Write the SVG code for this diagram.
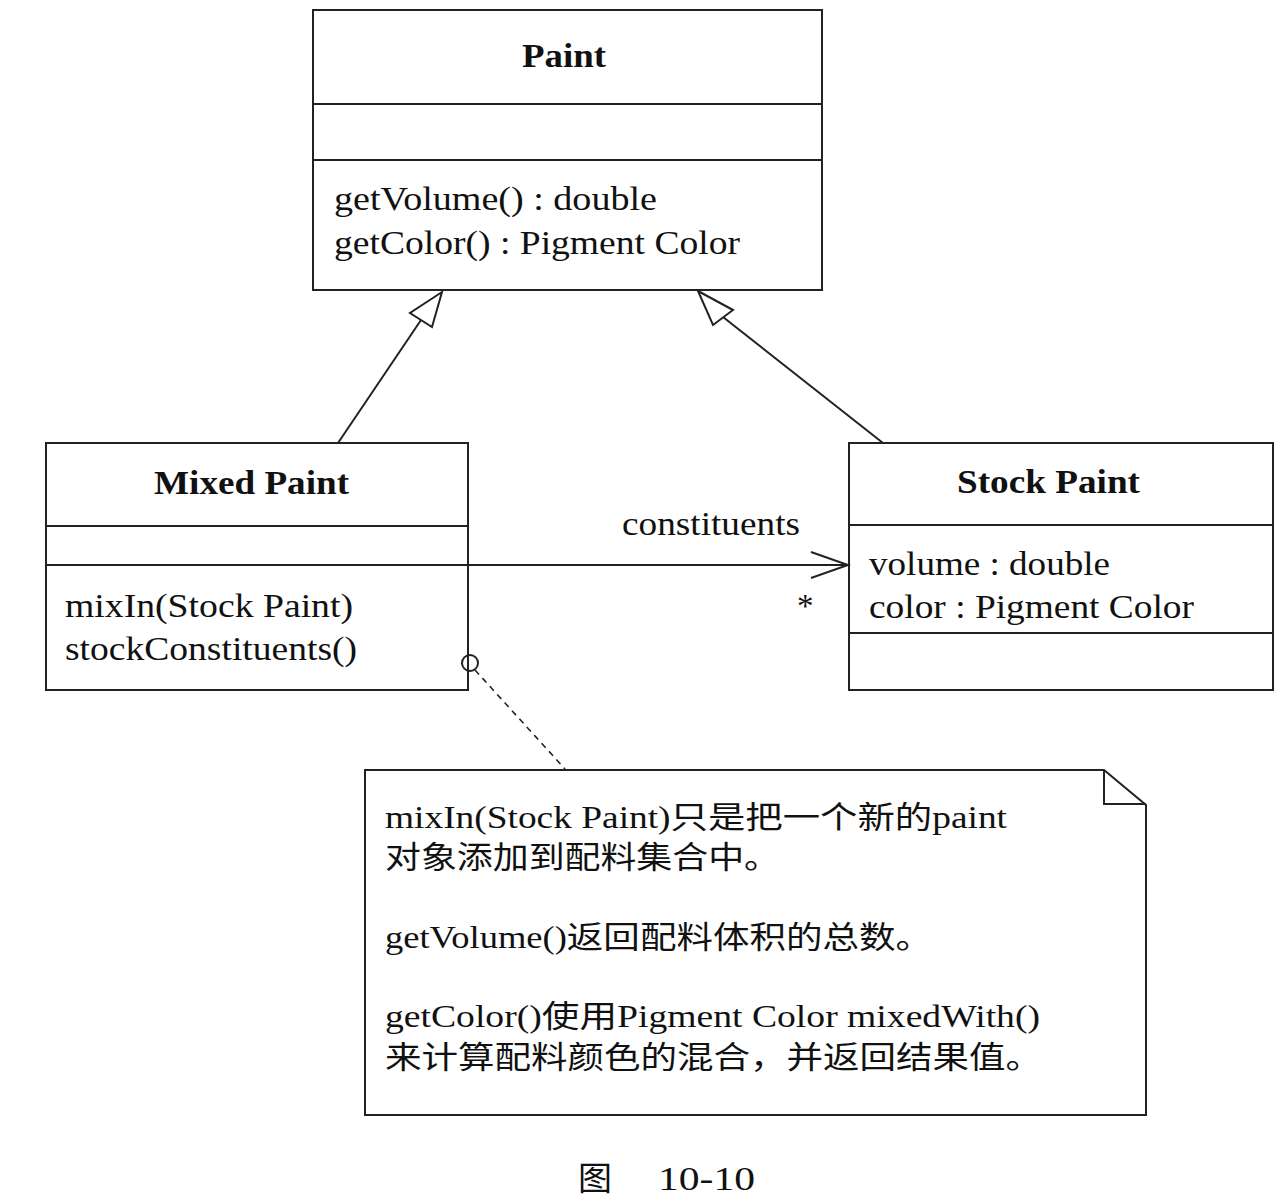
<svg xmlns="http://www.w3.org/2000/svg" width="1284" height="1200" viewBox="0 0 1284 1200">
<style>
.box{fill:#fff;stroke:#222;stroke-width:2}
.ln{stroke:#222;stroke-width:2;fill:none}
.t{font-family:"Liberation Serif","Noto Sans CJK SC",serif;font-size:33px;fill:#111}
.b{font-weight:bold}
.c{font-family:"Liberation Serif","Noto Sans CJK SC",serif;font-size:31px;fill:#111}
</style>
<rect width="1284" height="1200" fill="#fff"/>
<g id="paint">
<rect class="box" x="313" y="10" width="509" height="280"/>
<line class="ln" x1="313" y1="104" x2="822" y2="104"/>
<line class="ln" x1="313" y1="160" x2="822" y2="160"/>
<text class="t b" x="522" y="67" textLength="84" lengthAdjust="spacingAndGlyphs">Paint</text>
<text class="t" x="334" y="210" textLength="323" lengthAdjust="spacingAndGlyphs">getVolume() : double</text>
<text class="t" x="334" y="254" textLength="406" lengthAdjust="spacingAndGlyphs">getColor() : Pigment Color</text>
</g>
<g id="mixed-paint">
<rect class="box" x="46" y="443" width="422" height="247"/>
<line class="ln" x1="46" y1="526" x2="468" y2="526"/>
<line class="ln" x1="46" y1="565" x2="468" y2="565"/>
<text class="t b" x="154" y="494" textLength="195" lengthAdjust="spacingAndGlyphs">Mixed Paint</text>
<text class="t" x="65" y="617" textLength="288" lengthAdjust="spacingAndGlyphs">mixIn(Stock Paint)</text>
<text class="t" x="65" y="660" textLength="292" lengthAdjust="spacingAndGlyphs">stockConstituents()</text>
</g>
<g id="stock-paint">
<rect class="box" x="849" y="443" width="424" height="247"/>
<line class="ln" x1="849" y1="525" x2="1273" y2="525"/>
<line class="ln" x1="849" y1="633" x2="1273" y2="633"/>
<text class="t b" x="957" y="493" textLength="183" lengthAdjust="spacingAndGlyphs">Stock Paint</text>
<text class="t" x="869" y="575" textLength="241" lengthAdjust="spacingAndGlyphs">volume : double</text>
<text class="t" x="869" y="618" textLength="325" lengthAdjust="spacingAndGlyphs">color : Pigment Color</text>
</g>
<g id="note">
<path class="box" d="M365 770 H1104 L1146 805 V1115 H365 Z"/>
<path class="ln" d="M1104 770 V804 H1146"/>
<text class="c" x="385" y="828" textLength="622" lengthAdjust="spacingAndGlyphs">mixIn(Stock Paint)只是把一个新的paint</text>
<text class="c" x="385" y="868" textLength="395" lengthAdjust="spacingAndGlyphs">对象添加到配料集合中。</text>
<text class="c" x="385" y="948" textLength="547" lengthAdjust="spacingAndGlyphs">getVolume()返回配料体积的总数。</text>
<text class="c" x="385" y="1027" textLength="655" lengthAdjust="spacingAndGlyphs">getColor()使用Pigment Color mixedWith()</text>
<text class="c" x="385" y="1068" textLength="657" lengthAdjust="spacingAndGlyphs">来计算配料颜色的混合，并返回结果值。</text>
</g>
<g id="connectors">
<line class="ln" x1="338" y1="443" x2="421" y2="320"/>
<polygon class="box" points="442,292 410,313 432,327"/>
<line class="ln" x1="883" y1="443" x2="723" y2="317"/>
<polygon class="box" points="698,291 733,310 713,325"/>
<line class="ln" x1="468" y1="565" x2="848" y2="565"/>
<polyline class="ln" points="811,552 848,565 811,578"/>
<text class="t" x="622" y="535" textLength="178" lengthAdjust="spacingAndGlyphs">constituents</text>
<text class="t" x="797" y="617">*</text>
<circle cx="470" cy="663" r="8" fill="none" stroke="#222" stroke-width="2"/>
<line x1="475" y1="670" x2="565" y2="769" stroke="#222" stroke-width="1.6" stroke-dasharray="6,5"/>
</g>
<g id="caption">
<text class="t" x="578" y="1190" font-size="36" textLength="34" lengthAdjust="spacingAndGlyphs">图</text>
<text class="t" x="658" y="1190" font-size="36" textLength="97" lengthAdjust="spacingAndGlyphs">10-10</text>
</g>
</svg>
